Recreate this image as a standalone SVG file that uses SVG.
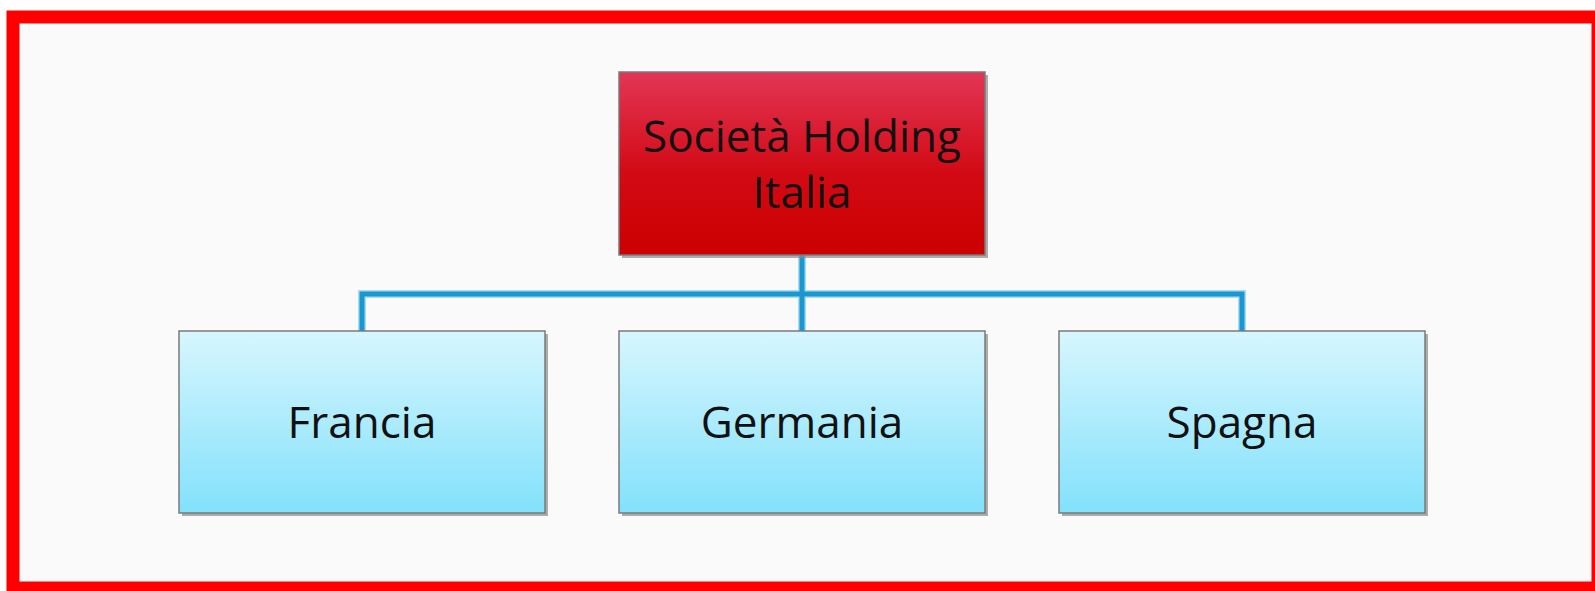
<svg xmlns="http://www.w3.org/2000/svg" width="1595" height="591" viewBox="0 0 1595 591">
<style>
.lbl{font-family:"Open Sans","Noto Sans",sans-serif;font-size:44px;fill:#111;text-anchor:middle}
.box{stroke:#7a7a7a;stroke-width:1.5}
.shadow{fill:#8a8a8a;opacity:0.7}
.conn{fill:none;stroke:#1b96cf;stroke-width:5;stroke-linejoin:miter}
.connhalo{fill:none;stroke:#a9dcf2;stroke-width:8}
</style>
<defs>
<linearGradient id="gRed" x1="0" y1="0" x2="0" y2="1">
<stop offset="0" stop-color="#e33656"/>
<stop offset="0.55" stop-color="#d20a15"/>
<stop offset="1" stop-color="#cc0000"/>
</linearGradient>
<linearGradient id="gBlue" x1="0" y1="0" x2="0" y2="1">
<stop offset="0" stop-color="#d7f6fe"/>
<stop offset="1" stop-color="#82e1fb"/>
</linearGradient>
</defs>
<rect x="0" y="0" width="1595" height="591" fill="#ffffff"/>
<rect x="13" y="17" width="1585" height="571" fill="#fafafa" stroke="#ff0000" stroke-width="13"/>
<g id="connectors">
<path class="connhalo" d="M802 255 V331 M362 331 V294 H1242 V331"/>
<path class="conn" d="M802 255 V331 M362 331 V294 H1242 V331"/>
</g>
<g id="holding">
<rect class="shadow" x="622" y="75" width="366" height="183"/>
<rect class="box" x="619" y="72" width="366" height="183" fill="url(#gRed)"/>
<text class="lbl" x="802" y="152">Società Holding</text>
<text class="lbl" x="802" y="208">Italia</text>
</g>
<g id="francia">
<rect class="shadow" x="182" y="334" width="366" height="182"/>
<rect class="box" x="179" y="331" width="366" height="182" fill="url(#gBlue)"/>
<text class="lbl" x="362" y="438">Francia</text>
</g>
<g id="germania">
<rect class="shadow" x="622" y="334" width="366" height="182"/>
<rect class="box" x="619" y="331" width="366" height="182" fill="url(#gBlue)"/>
<text class="lbl" x="802" y="438">Germania</text>
</g>
<g id="spagna">
<rect class="shadow" x="1062" y="334" width="366" height="182"/>
<rect class="box" x="1059" y="331" width="366" height="182" fill="url(#gBlue)"/>
<text class="lbl" x="1242" y="438">Spagna</text>
</g>
</svg>
